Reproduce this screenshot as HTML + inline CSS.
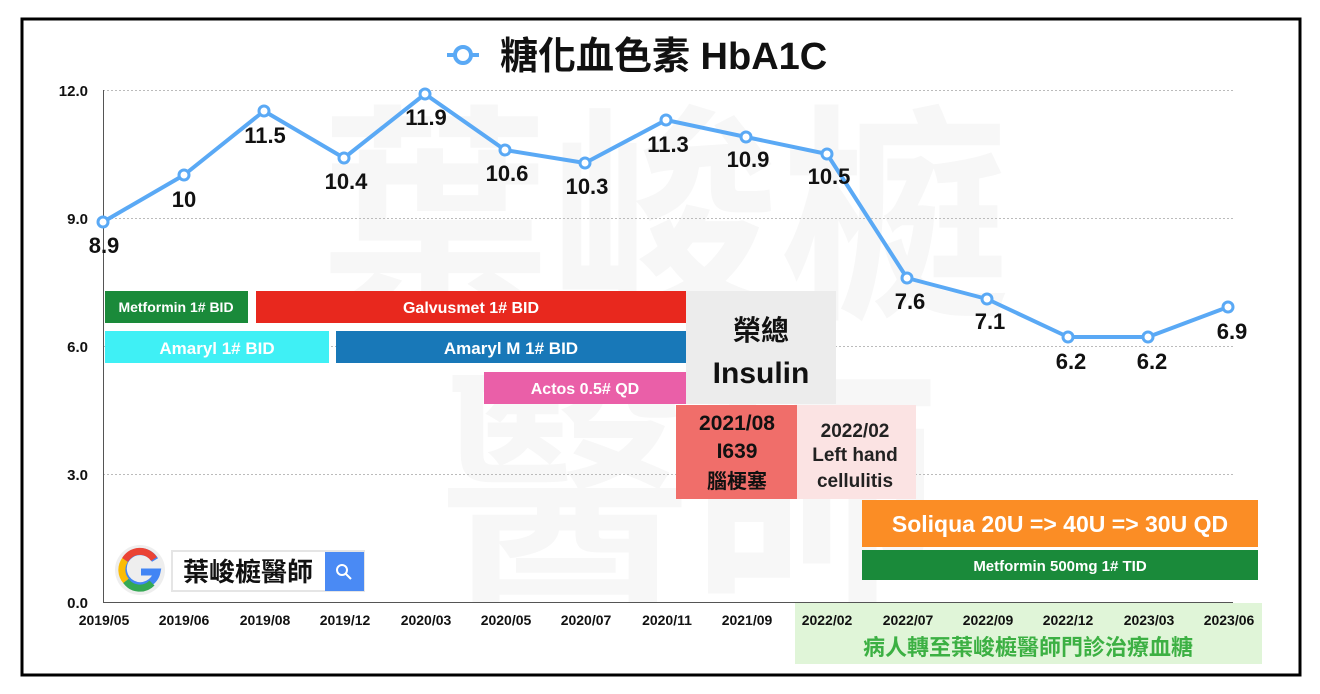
<!DOCTYPE html>
<html><head><meta charset="utf-8"><style>
body{margin:0;background:#fff;}
svg{display:block;font-family:"Liberation Sans","Noto Sans CJK TC",sans-serif;}
</style></head><body>
<svg width="1320" height="694" viewBox="0 0 1320 694" xmlns="http://www.w3.org/2000/svg">
<rect x="0" y="0" width="1320" height="694" fill="#fff"/>
<rect x="22" y="19" width="1278" height="656" fill="#fff" stroke="#000" stroke-width="3"/>
<!-- watermark -->
<g fill="#f7f7f7" font-weight="bold" font-size="230" font-family="Noto Sans CJK TC,sans-serif">
<text x="320" y="300">葉峻榳</text>
<text x="440" y="580" font-size="250">醫師</text>
</g>
<!-- grid -->
<g stroke="#bbb" stroke-dasharray="2,2" stroke-width="1">
<line x1="103" y1="90.5" x2="1233" y2="90.5"/>
<line x1="103" y1="218.5" x2="1233" y2="218.5"/>
<line x1="103" y1="346.5" x2="1233" y2="346.5"/>
<line x1="103" y1="474.5" x2="1233" y2="474.5"/>
</g>
<line x1="103.5" y1="90" x2="103.5" y2="602" stroke="#555"/>
<line x1="103" y1="602.5" x2="1233" y2="602.5" stroke="#555"/>
<g font-size="15" font-weight="bold" text-anchor="end" fill="#111">
<text x="88" y="96">12.0</text><text x="88" y="224">9.0</text><text x="88" y="352">6.0</text><text x="88" y="480">3.0</text><text x="88" y="608">0.0</text>
</g>
<!-- bars -->
<rect x="795" y="603" width="467" height="61" fill="#e0f5d8"/>
<text x="1028" y="655" text-anchor="middle" font-size="22" font-weight="bold" fill="#3cb043" font-family="Noto Sans CJK TC,sans-serif">病人轉至葉峻榳醫師門診治療血糖</text>
<rect x="105" y="291" width="143" height="32" fill="#1a8a3a"/>
<text x="176" y="312" text-anchor="middle" font-size="14" font-weight="bold" fill="#fff">Metformin 1# BID</text>
<rect x="256" y="291" width="430" height="32" fill="#e8281e"/>
<text x="471" y="313" text-anchor="middle" font-size="16" font-weight="bold" fill="#fff">Galvusmet 1# BID</text>
<rect x="105" y="331" width="224" height="32" fill="#3ff0f5"/>
<text x="217" y="354" text-anchor="middle" font-size="17" font-weight="bold" fill="#fff">Amaryl 1# BID</text>
<rect x="336" y="331" width="350" height="32" fill="#1878b8"/>
<text x="511" y="354" text-anchor="middle" font-size="17" font-weight="bold" fill="#fff">Amaryl M 1# BID</text>
<rect x="484" y="372" width="202" height="32" fill="#ea5fa8"/>
<text x="585" y="394" text-anchor="middle" font-size="16" font-weight="bold" fill="#fff">Actos 0.5# QD</text>
<rect x="686" y="291" width="150" height="113" fill="#ececec"/>
<text x="761" y="340" text-anchor="middle" font-size="28" font-weight="bold" fill="#111" font-family="Noto Sans CJK TC,sans-serif">榮總</text>
<text x="761" y="383" text-anchor="middle" font-size="30" font-weight="bold" fill="#111">Insulin</text>
<rect x="676" y="405" width="121" height="94" fill="#f06e6a"/>
<text x="737" y="430" text-anchor="middle" font-size="21" font-weight="bold" fill="#111">2021/08</text>
<text x="737" y="458" text-anchor="middle" font-size="21" font-weight="bold" fill="#111">I639</text>
<text x="737" y="488" text-anchor="middle" font-size="20" font-weight="bold" fill="#111" font-family="Noto Sans CJK TC,sans-serif">腦梗塞</text>
<rect x="797" y="405" width="119" height="94" fill="#fbe3e3"/>
<text x="855" y="437" text-anchor="middle" font-size="19" font-weight="bold" fill="#222">2022/02</text>
<text x="855" y="461" text-anchor="middle" font-size="19" font-weight="bold" fill="#222">Left hand</text>
<text x="855" y="487" text-anchor="middle" font-size="19" font-weight="bold" fill="#222">cellulitis</text>
<rect x="862" y="500" width="396" height="47" fill="#fb8d25"/>
<text x="1060" y="532" text-anchor="middle" font-size="23" font-weight="bold" fill="#fff">Soliqua 20U =&gt; 40U =&gt; 30U QD</text>
<rect x="862" y="550" width="396" height="30" fill="#1a8a3a"/>
<text x="1060" y="571" text-anchor="middle" font-size="15" font-weight="bold" fill="#fff">Metformin 500mg 1# TID</text>
<!-- x labels -->
<g font-size="14" font-weight="bold" text-anchor="middle" fill="#111">
<text x="104" y="625">2019/05</text><text x="184" y="625">2019/06</text><text x="265" y="625">2019/08</text><text x="345" y="625">2019/12</text><text x="426" y="625">2020/03</text><text x="506" y="625">2020/05</text><text x="586" y="625">2020/07</text><text x="667" y="625">2020/11</text><text x="747" y="625">2021/09</text><text x="827" y="625">2022/02</text><text x="908" y="625">2022/07</text><text x="988" y="625">2022/09</text><text x="1068" y="625">2022/12</text><text x="1149" y="625">2023/03</text><text x="1229" y="625">2023/06</text>
</g>
<!-- line -->
<polyline fill="none" stroke="#5aa9f5" stroke-width="4" stroke-linejoin="round" points="103,222 184,175 264,111 344,158 425,94 505,150 585,163 666,120 746,137 827,154 907,278 987,299 1068,337 1148,337 1228,307"/>
<g fill="#fff" stroke="#5aa9f5" stroke-width="3">
<circle cx="103" cy="222" r="5"/><circle cx="184" cy="175" r="5"/><circle cx="264" cy="111" r="5"/><circle cx="344" cy="158" r="5"/><circle cx="425" cy="94" r="5"/><circle cx="505" cy="150" r="5"/><circle cx="585" cy="163" r="5"/><circle cx="666" cy="120" r="5"/><circle cx="746" cy="137" r="5"/><circle cx="827" cy="154" r="5"/><circle cx="907" cy="278" r="5"/><circle cx="987" cy="299" r="5"/><circle cx="1068" cy="337" r="5"/><circle cx="1148" cy="337" r="5"/><circle cx="1228" cy="307" r="5"/>
</g>
<g font-size="22" font-weight="bold" text-anchor="middle" fill="#111">
<text x="104" y="253">8.9</text><text x="184" y="207">10</text><text x="265" y="143">11.5</text><text x="346" y="189">10.4</text><text x="426" y="125">11.9</text><text x="507" y="181">10.6</text><text x="587" y="194">10.3</text><text x="668" y="152">11.3</text><text x="748" y="167">10.9</text><text x="829" y="184">10.5</text><text x="910" y="309">7.6</text><text x="990" y="329">7.1</text><text x="1071" y="369">6.2</text><text x="1152" y="369">6.2</text><text x="1232" y="339">6.9</text>
</g>
<!-- title -->
<line x1="447" y1="55" x2="479" y2="55" stroke="#5aa9f5" stroke-width="4"/>
<circle cx="463" cy="55" r="8" fill="#fff" stroke="#5aa9f5" stroke-width="4"/>
<text x="500" y="69" font-size="38" font-weight="bold" fill="#111" font-family="Liberation Sans,Noto Sans CJK TC,sans-serif">糖化血色素 HbA1C</text>
<!-- google widget -->
<circle cx="140" cy="570" r="25" fill="#eee"/>
<path d="M155,560 A17,17 0 1 0 157,572 L141,572" fill="none" stroke="#4285f4" stroke-width="7"/>
<path d="M154,559 A17,17 0 0 0 125,560" fill="none" stroke="#ea4335" stroke-width="7"/>
<path d="M125,560 A17,17 0 0 0 126,581" fill="none" stroke="#fbbc05" stroke-width="7"/>
<path d="M126,581 A17,17 0 0 0 152,583" fill="none" stroke="#34a853" stroke-width="7"/>
<rect x="172" y="551" width="192" height="40" fill="#fff" stroke="#e5e5e5" stroke-width="2"/>
<rect x="325" y="552" width="39" height="39" fill="#4a8af4"/>
<circle cx="342" cy="570" r="5" fill="none" stroke="#fff" stroke-width="2"/>
<line x1="346" y1="574" x2="351" y2="579" stroke="#fff" stroke-width="2"/>
<text x="248" y="581" text-anchor="middle" font-size="26" font-weight="bold" fill="#111" font-family="Noto Sans CJK TC,sans-serif">葉峻榳醫師</text>
</svg>
</body></html>
